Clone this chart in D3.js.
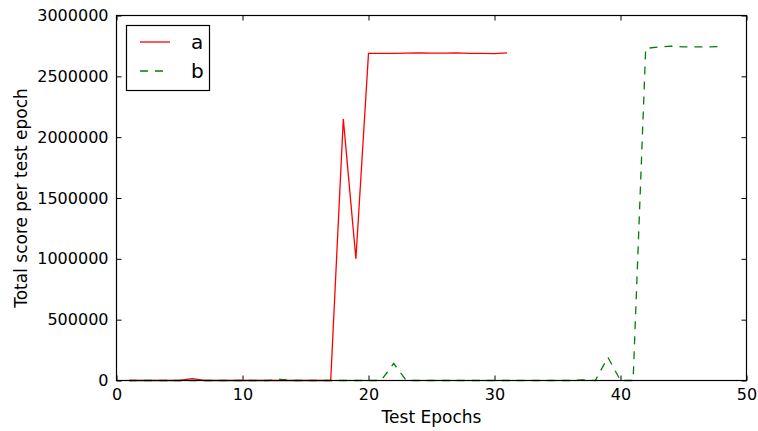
<!DOCTYPE html>
<html><head><meta charset="utf-8">
<script src="https://cdn.jsdelivr.net/npm/d3@7"></script>
<style>body{margin:0;background:#fff}svg{display:block}text{font-family:"DejaVu Sans",sans-serif}</style>
</head><body><svg id="c" width="758" height="431"></svg>
<script>
const xA = d3.range(1, 32);
const seriesA = [0,0,0,0,0,15000,0,0,0,0,0,0,0,0,0,0,0,2150000,1000000,2688000,2688000,2688000,2690000,2692000,2690000,2691000,2692000,2688000,2689000,2686000,2692000];
const xB = d3.range(1, 49);
const seriesB = [0,0,0,0,0,0,0,0,0,0,0,0,10000,0,0,0,0,0,0,0,0,140000,0,0,0,0,0,0,0,0,0,0,0,0,0,0,5000,0,190000,0,0,2730000,2740000,2748000,2742000,2742000,2742000,2745000];
const xTicks = [0,10,20,30,40,50];
const yTicks = [0,500000,1000000,1500000,2000000,2500000,3000000];
const names = ["a","b"];

const svg = d3.select("#c");
const L=116.5, R=746.5, T=15.5, B=380.5;
const x = d3.scaleLinear().domain([0,50]).range([L,R]);
const y = d3.scaleLinear().domain([0,3000000]).range([B,T]);

const g = svg.append("g");
const tl = 5;
const fs = "16px";
g.append("g").attr("transform",`translate(0,${B})`)
  .call(d3.axisBottom(x).tickValues(xTicks).tickSizeInner(-tl).tickSizeOuter(0).tickPadding(8).tickFormat(d3.format("d")))
  .call(a=>{a.select(".domain").remove();a.selectAll("text").style("font-size",fs).attr("fill","#000");a.selectAll("line").attr("stroke","#000");});
g.append("g").attr("transform",`translate(0,${T})`)
  .call(d3.axisTop(x).tickValues(xTicks).tickSizeInner(-tl).tickSizeOuter(0).tickFormat(""))
  .call(a=>{a.select(".domain").remove();a.selectAll("line").attr("stroke","#000");});
g.append("g").attr("transform",`translate(${L},0)`)
  .call(d3.axisLeft(y).tickValues(yTicks).tickSizeInner(-tl).tickSizeOuter(0).tickPadding(8).tickFormat(d3.format("d")))
  .call(a=>{a.select(".domain").remove();a.selectAll("text").style("font-size",fs).attr("fill","#000");a.selectAll("line").attr("stroke","#000");});
g.append("g").attr("transform",`translate(${R},0)`)
  .call(d3.axisRight(y).tickValues(yTicks).tickSizeInner(-tl).tickSizeOuter(0).tickFormat(""))
  .call(a=>{a.select(".domain").remove();a.selectAll("line").attr("stroke","#000");});

const line = d3.line().x(d=>x(d[0])).y(d=>y(d[1]));
svg.append("path").datum(xA.map((v,i)=>[v,seriesA[i]])).attr("d",line)
  .attr("fill","none").attr("stroke","#ff0000").attr("stroke-width",1.3);
svg.append("path").datum(xB.map((v,i)=>[v,seriesB[i]])).attr("d",line)
  .attr("fill","none").attr("stroke","#008000").attr("stroke-width",1.3).attr("stroke-dasharray","8,7");

svg.append("rect").attr("x",L).attr("y",T).attr("width",R-L).attr("height",B-T)
  .attr("fill","none").attr("stroke","#000").attr("stroke-width",1.2);

const lg = svg.append("g");
lg.append("rect").attr("x",126.5).attr("y",25.5).attr("width",83).attr("height",65)
  .attr("fill","#fff").attr("stroke","#000").attr("stroke-width",1.2);
const colors=["#ff0000","#008000"], dash=[null,"8,7"];
names.forEach((n,i)=>{
  const yy = 42 + i*29;
  lg.append("line").attr("x1",140).attr("x2",170).attr("y1",yy).attr("y2",yy)
    .attr("stroke",colors[i]).attr("stroke-width",1.3).attr("stroke-dasharray",dash[i]);
  lg.append("text").attr("x",191).attr("y",yy+7).text(n).style("font-size","20px");
});

svg.append("text").attr("x",(L+R)/2).attr("y",423).attr("text-anchor","middle").style("font-size","17px").text("Test Epochs");
svg.append("text").attr("transform",`translate(27,${(T+B)/2}) rotate(-90)`).attr("text-anchor","middle").style("font-size","17px").text("Total score per test epoch");
</script></body></html>
